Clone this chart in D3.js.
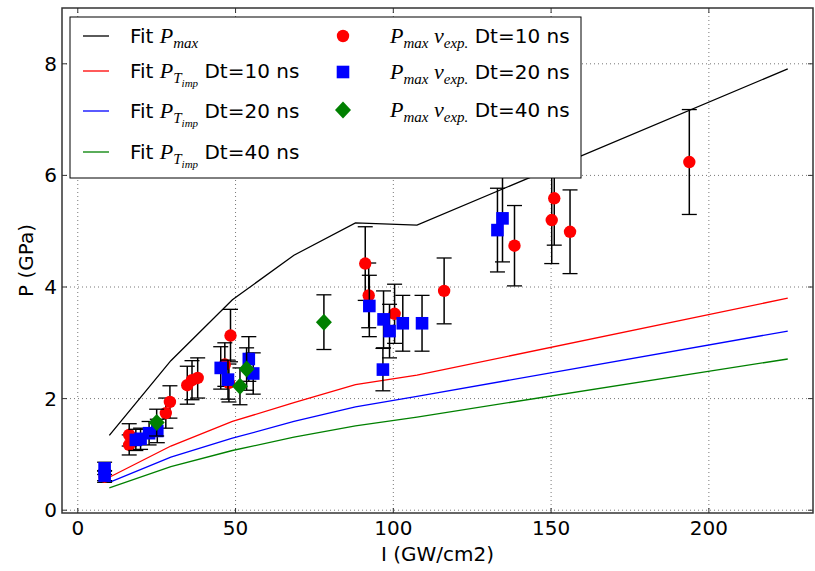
<!DOCTYPE html>
<html><head><meta charset="utf-8">
<script src="https://cdn.jsdelivr.net/npm/d3@7"></script>
<style>body{margin:0;background:#fff}svg{display:block}</style>
</head><body>
<svg id="chart" width="815" height="571"></svg>
<script>
// ---- data ----
const fitX     = [10, 29.5, 49, 68.5, 88, 107.5, 225];
const fitPmax  = [1.34, 2.68, 3.77, 4.57, 5.15, 5.11, 7.91];
const fitT10   = [0.59, 1.15, 1.59, 1.93, 2.25, 2.42, 3.80];
const fitT20   = [0.50, 0.95, 1.29, 1.59, 1.85, 2.04, 3.21];
const fitT40   = [0.40, 0.78, 1.07, 1.31, 1.51, 1.67, 2.71];

const r10X = [8.5, 16.3, 16.3, 27.9, 29.2, 34.7, 36.2, 38.0, 46.6, 47.9, 48.4, 91.1, 92.2, 100.4, 116.1, 138.4, 150.2, 151.0, 156.0, 193.8];
const r10Y = [0.60, 1.35, 1.17, 1.74, 1.94, 2.24, 2.33, 2.37, 2.61, 2.28, 3.13, 4.42, 3.85, 3.52, 3.93, 4.74, 5.20, 5.59, 4.99, 6.24];
const r10E = [0.10, 0.20, 0.18, 0.27, 0.29, 0.34, 0.35, 0.36, 0.39, 0.34, 0.47, 0.66, 0.58, 0.53, 0.59, 0.72, 0.78, 0.84, 0.75, 0.94];

const b20X = [8.5, 8.5, 18.4, 19.9, 22.6, 25.2, 45.3, 47.6, 54.2, 55.6, 92.4, 96.9, 96.7, 98.8, 103.0, 109.1, 133.0, 134.6];
const b20Y = [0.75, 0.62, 1.26, 1.28, 1.38, 1.42, 2.55, 2.34, 2.71, 2.45, 3.66, 3.42, 2.52, 3.21, 3.35, 3.35, 5.02, 5.23];
const b20E = [0.11, 0.09, 0.19, 0.19, 0.21, 0.21, 0.38, 0.35, 0.40, 0.37, 0.55, 0.51, 0.38, 0.48, 0.50, 0.50, 0.75, 0.78];

const g40X = [25.0, 51.4, 53.5, 78.0];
const g40Y = [1.57, 2.22, 2.53, 3.37];
const g40E = [0.24, 0.33, 0.38, 0.49];

const xTicks = [0, 50, 100, 150, 200];
const yTicks = [0, 2, 4, 6, 8];
const xLabel = "I (GW/cm2)";
const yLabel = "P (GPa)";

// ---- layout ----
const L = 62, R = 813, T = 8, B = 513;
const svg = d3.select("#chart");
const x = d3.scaleLinear().domain([-5, 233]).range([L, R]);
const y = d3.scaleLinear().domain([-0.05, 9]).range([B, T]);
const SANS = "'DejaVu Sans', sans-serif";
const SERIF = "'Liberation Serif', 'DejaVu Serif', serif";

// clip
svg.append("defs").append("clipPath").attr("id","clip")
  .append("rect").attr("x",L).attr("y",T).attr("width",R-L).attr("height",B-T);

// grid
const grid = svg.append("g");
grid.selectAll(".gx").data(xTicks).join("line")
  .attr("x1",d=>x(d)).attr("x2",d=>x(d)).attr("y1",T).attr("y2",B)
  .attr("stroke","#777").attr("stroke-width",1).attr("stroke-dasharray","1,3");
grid.selectAll(".gy").data(yTicks).join("line")
  .attr("y1",d=>y(d)).attr("y2",d=>y(d)).attr("x1",L).attr("x2",R)
  .attr("stroke","#777").attr("stroke-width",1).attr("stroke-dasharray","1,3");

const plot = svg.append("g").attr("clip-path","url(#clip)");

// fit lines
const line = (ys) => d3.line().x((d,i)=>x(fitX[i])).y(d=>y(d))(ys);
[[fitPmax,"#000"],[fitT10,"#ff0000"],[fitT20,"#0000ff"],[fitT40,"#008000"]].forEach(([ys,c])=>{
  plot.append("path").attr("d",line(ys)).attr("fill","none").attr("stroke",c).attr("stroke-width",1.3);
});

// error bars + markers
function series(xs, ys, es, kind, color){
  const g = plot.append("g");
  xs.forEach((xv,i)=>{
    const cx = x(xv), yt = y(ys[i]+es[i]), yb = y(ys[i]-es[i]);
    g.append("line").attr("x1",cx).attr("x2",cx).attr("y1",yt).attr("y2",yb).attr("stroke","#000").attr("stroke-width",1.5);
    g.append("line").attr("x1",cx-7.5).attr("x2",cx+7.5).attr("y1",yt).attr("y2",yt).attr("stroke","#000").attr("stroke-width",1.3);
    g.append("line").attr("x1",cx-7.5).attr("x2",cx+7.5).attr("y1",yb).attr("y2",yb).attr("stroke","#000").attr("stroke-width",1.3);
  });
  xs.forEach((xv,i)=>{
    const cx = x(xv), cy = y(ys[i]);
    marker(g, cx, cy, kind, color);
  });
}
function marker(g, cx, cy, kind, color){
  if(kind==="circle") g.append("circle").attr("cx",cx).attr("cy",cy).attr("r",6.2).attr("fill",color);
  else if(kind==="square") g.append("rect").attr("x",cx-6.3).attr("y",cy-6.3).attr("width",12.6).attr("height",12.6).attr("fill",color);
  else g.append("path").attr("d",`M${cx},${cy-8.5}L${cx+8},${cy}L${cx},${cy+8.5}L${cx-8},${cy}Z`).attr("fill",color);
}
series(r10X, r10Y, r10E, "circle", "#ff0000");
series(b20X, b20Y, b20E, "square", "#0000ff");
series(g40X, g40Y, g40E, "diamond", "#008000");

// frame
svg.append("rect").attr("x",L).attr("y",T).attr("width",R-L).attr("height",B-T)
  .attr("fill","none").attr("stroke","#333").attr("stroke-width",1.5);

// ticks (inward, all sides)
const tk = svg.append("g").attr("stroke","#333").attr("stroke-width",1);
xTicks.forEach(v=>{
  tk.append("line").attr("x1",x(v)).attr("x2",x(v)).attr("y1",B).attr("y2",B-5);
  tk.append("line").attr("x1",x(v)).attr("x2",x(v)).attr("y1",T).attr("y2",T+5);
});
yTicks.forEach(v=>{
  tk.append("line").attr("y1",y(v)).attr("y2",y(v)).attr("x1",L).attr("x2",L+5);
  tk.append("line").attr("y1",y(v)).attr("y2",y(v)).attr("x1",R).attr("x2",R-5);
});

// tick labels
svg.append("g").selectAll("text").data(xTicks).join("text")
  .attr("x",d=>x(d)).attr("y",B+22).attr("text-anchor","middle")
  .attr("font-family",SANS).attr("font-size",20).attr("fill","#000").text(d=>d);
svg.append("g").selectAll("text").data(yTicks).join("text")
  .attr("x",L-5).attr("y",d=>y(d)+7).attr("text-anchor","end")
  .attr("font-family",SANS).attr("font-size",20).attr("fill","#000").text(d=>d);

// axis labels
svg.append("text").attr("x",(L+R)/2).attr("y",561).attr("text-anchor","middle")
  .attr("font-family",SANS).attr("font-size",20).text(xLabel);
svg.append("text").attr("transform",`translate(33,${(T+B)/2}) rotate(-90)`).attr("text-anchor","middle")
  .attr("font-family",SANS).attr("font-size",20).text(yLabel);

// legend
const lg = svg.append("g");
lg.append("rect").attr("x",70).attr("y",17).attr("width",511).attr("height",161)
  .attr("fill","#fff").attr("stroke","#000").attr("stroke-width",1);

const leftRows = [
  {c:"#000", y:36, sub:"max", subsub:null, tail:""},
  {c:"#ff0000", y:71, sub:"T", subsub:"imp", tail:" Dt=10 ns"},
  {c:"#0000ff", y:111, sub:"T", subsub:"imp", tail:" Dt=20 ns"},
  {c:"#008000", y:152, sub:"T", subsub:"imp", tail:" Dt=40 ns"}
];
leftRows.forEach(r=>{
  lg.append("line").attr("x1",83).attr("x2",109).attr("y1",r.y).attr("y2",r.y).attr("stroke",r.c).attr("stroke-width",1.3);
  const t = lg.append("text").attr("x",130).attr("y",r.y+7).attr("font-size",20).attr("font-family",SANS);
  t.append("tspan").text("Fit ");
  t.append("tspan").attr("font-family",SERIF).attr("font-style","italic").attr("font-size",22).text("P");
  t.append("tspan").attr("font-family",SERIF).attr("font-style","italic").attr("font-size",15).attr("dy",5).text(r.sub);
  if(r.subsub){
    t.append("tspan").attr("font-family",SERIF).attr("font-style","italic").attr("font-size",11).attr("dy",4).text(r.subsub);
    t.append("tspan").attr("dy",-9).text(r.tail);
  }
});

const rightRows = [
  {kind:"circle", c:"#ff0000", y:36, tail:" Dt=10 ns"},
  {kind:"square", c:"#0000ff", y:72, tail:" Dt=20 ns"},
  {kind:"diamond", c:"#008000", y:110, tail:" Dt=40 ns"}
];
rightRows.forEach(r=>{
  marker(lg, 343, r.y, r.kind, r.c);
  const t = lg.append("text").attr("x",390).attr("y",r.y+7).attr("font-size",20).attr("font-family",SANS);
  t.append("tspan").attr("font-family",SERIF).attr("font-style","italic").attr("font-size",22).text("P");
  t.append("tspan").attr("font-family",SERIF).attr("font-style","italic").attr("font-size",15).attr("dy",5).text("max");
  t.append("tspan").attr("font-family",SERIF).attr("font-style","italic").attr("font-size",22).attr("dy",-5).text(" v");
  t.append("tspan").attr("font-family",SERIF).attr("font-style","italic").attr("font-size",15).attr("dy",5).text("exp.");
  t.append("tspan").attr("dy",-5).text(r.tail);
});
</script>
</body></html>
